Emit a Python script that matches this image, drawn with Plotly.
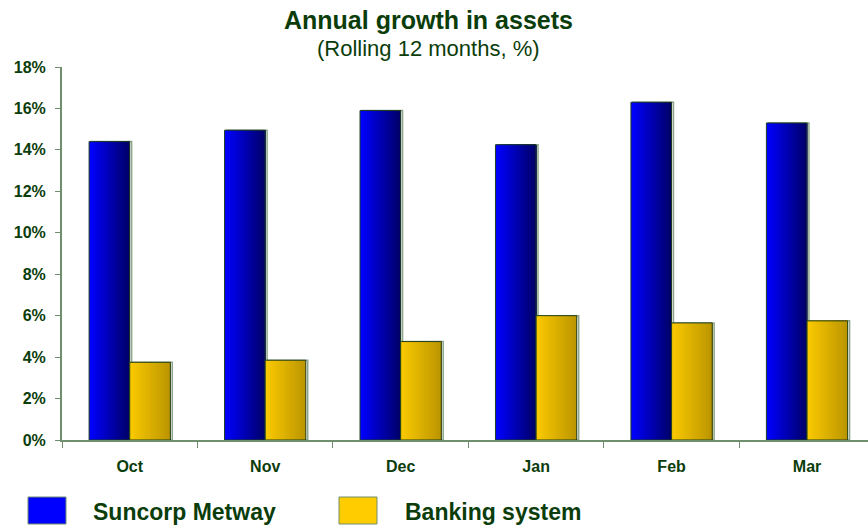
import plotly.graph_objects as go

# Data
months = ["Oct", "Nov", "Dec", "Jan", "Feb", "Mar"]
suncorp = [14.4, 14.95, 15.9, 14.25, 16.3, 15.3]
banking = [3.75, 3.85, 4.75, 6.0, 5.65, 5.75]
y_ticks = [0, 2, 4, 6, 8, 10, 12, 14, 16, 18]
y_tick_labels = [f"{v}%" for v in y_ticks]

DARK_GREEN = "#0b3d0b"
AXIS_GREEN = "#6f8f6f"
FONT = "Liberation Sans, Arial, sans-serif"

BAR_W = 0.3      # width of each bar in category units
SLICES = 24      # vertical slices used to shade each bar
SHADOW = 0.014   # shadow outline shift, category units


def lerp(c0, c1, t):
    return "rgb({},{},{})".format(*[round(a + (b - a) * t) for a, b in zip(c0, c1)])


def shaded_bar(values, left_offset, c_left, c_right):
    """Stack overlapping slices left-to-right to give a horizontal gradient."""
    traces = [go.Bar(
        x=months, y=values, offset=left_offset + SHADOW, width=BAR_W,
        marker=dict(color="rgba(0,0,0,0)", line=dict(color="rgba(111,143,111,0.8)", width=1.5)),
        showlegend=False, hoverinfo="skip",
    )]
    for k in range(SLICES):
        start = left_offset + BAR_W * k / SLICES
        traces.append(go.Bar(
            x=months, y=values,
            offset=start, width=BAR_W * (SLICES - k) / SLICES,
            marker=dict(color=lerp(c_left, c_right, k / (SLICES - 1)), line=dict(width=0)),
            showlegend=False, hoverinfo="skip",
        ))
    # outline
    traces.append(go.Bar(
        x=months, y=values, offset=left_offset, width=BAR_W,
        marker=dict(color="rgba(0,0,0,0)", line=dict(color="#1f3f1f", width=1)),
        showlegend=False, hoverinfo="x+y",
    ))
    return traces


fig = go.Figure()
for t in shaded_bar(suncorp, -BAR_W, (0, 0, 255), (0, 0, 105)):
    fig.add_trace(t)
for t in shaded_bar(banking, 0.0, (250, 201, 0), (188, 150, 0)):
    fig.add_trace(t)

fig.update_layout(
    width=868, height=529,
    margin=dict(l=62, r=0, t=67, b=89),
    barmode="overlay",
    plot_bgcolor="white", paper_bgcolor="white",
    font=dict(family=FONT, color=DARK_GREEN),
    showlegend=False,
    xaxis=dict(
        type="category", range=[-0.5, 5.45],
        showline=True, linecolor=AXIS_GREEN, linewidth=2,
        ticks="outside", tickson="boundaries", ticklen=6, tickcolor=AXIS_GREEN,
        tickfont=dict(size=16, color=DARK_GREEN, family=FONT, weight="bold"),
        ticklabelstandoff=11,
        showgrid=False, zeroline=False,
    ),
    yaxis=dict(
        range=[0, 18], tickvals=y_ticks, ticktext=y_tick_labels,
        showline=True, linecolor=AXIS_GREEN, linewidth=2,
        ticks="outside", ticklen=5, tickcolor=AXIS_GREEN,
        tickfont=dict(size=16, color=DARK_GREEN, family=FONT, weight="bold"),
        ticklabelstandoff=6,
        showgrid=False, zeroline=False,
    ),
)


def px_x(v):
    return (v - 62) / 806


def px_y(v):
    return (440 - v) / 373


# Title and subtitle
fig.add_annotation(text="<b>Annual growth in assets</b>", xref="paper", yref="paper",
                   x=px_x(428), y=px_y(20), showarrow=False,
                   font=dict(size=25, color=DARK_GREEN, family=FONT),
                   xanchor="center", yanchor="middle")
fig.add_annotation(text="(Rolling 12 months, %)", xref="paper", yref="paper",
                   x=px_x(428), y=px_y(49), showarrow=False,
                   font=dict(size=22, color=DARK_GREEN, family=FONT),
                   xanchor="center", yanchor="middle")

# Legend drawn as swatches with labels below the chart
legend_items = [("Suncorp Metway", "#0000ff", 28, 91), ("Banking system", "#ffcc00", 339, 403)]
for label, color, sx, tx in legend_items:
    fig.add_shape(type="rect", xref="paper", yref="paper",
                  x0=px_x(sx), x1=px_x(sx + 38), y0=px_y(524), y1=px_y(497),
                  fillcolor=color, line=dict(color=AXIS_GREEN, width=1))
    fig.add_annotation(text=f"<b>{label}</b>", xref="paper", yref="paper",
                       x=px_x(tx), y=px_y(512), showarrow=False,
                       xanchor="left", yanchor="middle",
                       font=dict(size=23, color=DARK_GREEN, family=FONT))

fig.write_html("out.html")
